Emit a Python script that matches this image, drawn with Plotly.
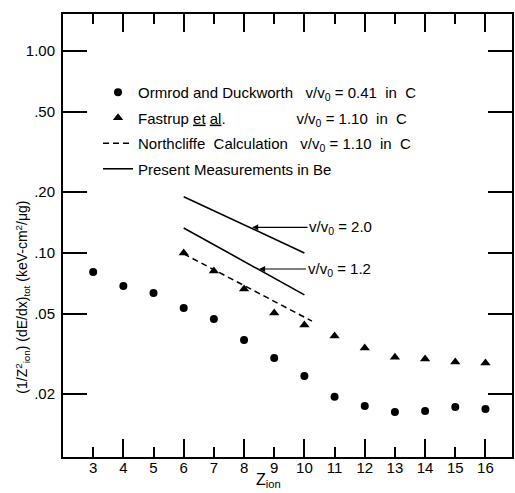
import numpy as np
import plotly.graph_objects as go

# ---- data ----
z_ion = [3, 4, 5, 6, 7, 8, 9, 10, 11, 12, 13, 14, 15, 16]
ormrod = [0.0805, 0.0687, 0.0634, 0.0534, 0.0471, 0.0371, 0.0302, 0.0246,
          0.0194, 0.0175, 0.0163, 0.0165, 0.0173, 0.0169]
fastrup_z = [6, 7, 8, 9, 10, 11, 12, 13, 14, 15, 16]
fastrup = [0.100, 0.0814, 0.0664, 0.0505, 0.0440, 0.0388, 0.0339, 0.0305,
           0.0299, 0.0289, 0.0285]
north_z = [6, 10.25]
north = [0.099, 0.046]
pres20_z = [6, 10]
pres20 = [0.19, 0.100]
pres12_z = [6, 10]
pres12 = [0.133, 0.062]

ytick_vals = [0.02, 0.05, 0.1, 0.2, 0.5, 1.0]
ytick_text = [".02", ".05", ".10", ".20", ".50", "1.00"]
xtick_vals = list(range(3, 17))
xtick_long = list(range(4, 17, 2))

FONT = "Liberation Sans"
W, H = 515, 493

fig = go.Figure()
fig.add_trace(go.Scatter(
    x=z_ion, y=ormrod, mode="markers", legendgroup="a",
    marker=dict(symbol="circle", size=8, color="black"),
    name="Ormrod and Duckworth   v/v<sub>0</sub> = 0.41  in  C"))
fig.add_trace(go.Scatter(
    x=fastrup_z, y=fastrup, mode="markers", legendgroup="b",
    marker=dict(symbol="triangle-up", size=9, color="black"),
    name="Fastrup <u>et</u> <u>al</u>.                 v/v<sub>0</sub> = 1.10  in  C"))
fig.add_trace(go.Scatter(
    x=north_z, y=north, mode="lines", legendgroup="c",
    line=dict(color="black", width=1.5, dash="6px,4px"),
    name="Northcliffe  Calculation   v/v<sub>0</sub> = 1.10  in  C"))
fig.add_trace(go.Scatter(
    x=pres20_z + [None] + pres12_z, y=pres20 + [None] + pres12,
    mode="lines", line=dict(color="black", width=1.6), legendgroup="d",
    name="Present Measurements in Be", xaxis="x2"))

axis_common = dict(showgrid=False, zeroline=False, showline=True,
                   linecolor="black", linewidth=2, ticks="inside",
                   tickcolor="black", mirror="ticks")

fig.update_layout(
    width=W, height=H,
    margin=dict(l=63, r=1, t=14, b=36),
    paper_bgcolor="white", plot_bgcolor="white",
    font=dict(family=FONT, size=14, color="black"),
    xaxis=dict(range=[2.0, 16.88], tickvals=xtick_vals, ticklen=10,
               tickwidth=2, tickfont=dict(size=15), ticklabelstandoff=-4,
               **axis_common),
    xaxis2=dict(range=[2.0, 16.88], overlaying="x", tickvals=xtick_long,
                ticklen=18, tickwidth=2, showticklabels=False,
                showgrid=False, zeroline=False, showline=False,
                ticks="inside", tickcolor="black", mirror="ticks",
                anchor="y"),
    yaxis=dict(type="log", range=[-2.010, 0.183], tickvals=ytick_vals,
               ticktext=ytick_text, ticklen=24, tickwidth=2,
               tickfont=dict(size=15), ticklabelstandoff=3, **axis_common),
    showlegend=True,
    legend=dict(x=0.078, y=0.86, xanchor="left", yanchor="top",
                bgcolor="rgba(0,0,0,0)", font=dict(size=15),
                tracegroupgap=3, traceorder="grouped"),
)

# axis titles as annotations
fig.add_annotation(
    text="(1/Z<sup>2</sup><sub>ion</sub>) (dE/dx)<sub>tot</sub> (keV-cm<sup>2</sup>/μg)",
    xref="paper", yref="paper", x=-0.091, y=0.36, textangle=-90,
    xanchor="center", yanchor="middle",
    showarrow=False, font=dict(size=14))
fig.add_annotation(
    text="Z<sub>ion</sub>", xref="x", yref="paper", x=8.8, y=-0.053,
    showarrow=False, font=dict(size=16), xanchor="center", yanchor="middle")

# arrow labels
for head_x, head_y, txt_x, label in [
        (8.27, 0.134, 11.2, "v/v<sub>0</sub> = 2.0"),
        (8.5, 0.0833, 11.15, "v/v<sub>0</sub> = 1.2")]:
    fig.add_annotation(
        x=head_x, y=np.log10(head_y), ax=txt_x, ay=np.log10(head_y),
        xref="x", yref="y", axref="x", ayref="y",
        text=label, showarrow=True, arrowhead=2, arrowsize=1,
        arrowwidth=1.2, arrowcolor="black", font=dict(size=15))

fig.write_html("out.html")
